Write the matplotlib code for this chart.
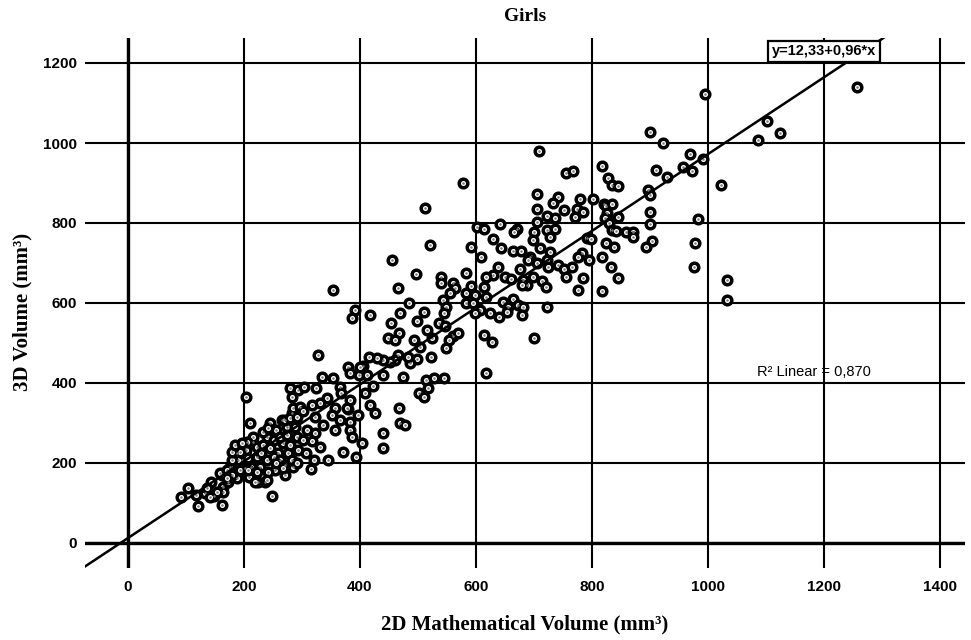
import numpy as np
import matplotlib
matplotlib.use('Agg')
import matplotlib.pyplot as plt

# values (2D volume, 3D volume), mm^3
pts = [
    # lower-left cluster
    (103, 137), (92, 114), (120, 93), (118, 120), (133, 124), (144, 153), (149, 118), (162, 95),
    (164, 141), (162, 170), (176, 191), (173, 153), (188, 224), (188, 162), (203, 366), (210, 301),
    (203, 233), (202, 187), (209, 166), (216, 253), (222, 241), (225, 153), (236, 153), (248, 117),
    (228, 191), (239, 208), (245, 299), (239, 266), (253, 183), (259, 224), (268, 249), (274, 291),
    (282, 324), (279, 387), (294, 383), (282, 366), (288, 291), (291, 266), (294, 233), (285, 191),
    (271, 170), (265, 308), (256, 283), (259, 262),
    (159, 174), (170, 183), (179, 170), (193, 183), (196, 208), (207, 212), (213, 191), (222, 216),
    (230, 224), (233, 245), (245, 237), (251, 258), (251, 216), (262, 208), (271, 195), (276, 224),
    (279, 245), (262, 266), (274, 270), (271, 308), (279, 312), (291, 316), (285, 337), (297, 341),
    (233, 278), (242, 287), (216, 266), (205, 253), (190, 208), (179, 208), (170, 162), (164, 128),
    (153, 128), (141, 116), (136, 137), (219, 153), (207, 183), (222, 178), (242, 178), (239, 158),
    (256, 199), (268, 187), (282, 208), (291, 199), (193, 228), (179, 228), (184, 245), (196, 249),
    # 300-590
    (456, 707), (496, 672), (353, 633), (465, 638), (540, 666), (540, 651), (561, 649), (563, 637),
    (583, 674), (583, 624), (583, 601), (555, 624), (543, 607), (549, 591), (485, 601), (391, 583),
    (386, 562), (418, 570), (469, 574), (510, 578), (498, 555), (454, 551), (468, 526), (448, 513),
    (460, 507), (515, 532), (525, 513), (537, 549), (546, 542), (561, 517), (554, 507), (549, 488),
    (494, 507), (504, 491), (522, 464), (498, 459), (486, 449), (483, 466), (466, 470), (460, 457),
    (452, 453), (439, 457), (429, 462), (416, 464), (406, 443), (399, 420), (412, 420), (423, 393),
    (409, 376), (400, 441), (380, 441), (383, 424), (475, 416), (440, 420), (514, 407), (527, 412),
    (545, 412), (518, 387), (501, 374), (510, 366), (468, 337), (469, 301), (477, 295), (417, 345),
    (426, 324), (397, 320), (380, 334), (382, 303), (383, 283), (386, 266), (403, 251), (440, 274),
    (439, 237), (393, 216), (370, 228), (345, 207), (315, 184), (328, 470), (334, 416), (354, 412),
    (303, 391), (325, 387), (365, 391), (368, 374), (382, 358), (343, 362), (357, 337), (377, 337),
    (331, 349), (317, 345), (302, 329), (322, 316), (351, 320), (366, 308), (337, 295), (308, 283),
    (322, 274), (357, 283), (302, 258), (317, 254), (331, 241), (307, 224), (320, 208),
    (512, 838), (521, 745),
    # 590-800
    (577, 901), (708, 980), (756, 924), (768, 931), (706, 872), (742, 864), (733, 849), (751, 832),
    (779, 861), (774, 836), (785, 828), (771, 816), (706, 834), (722, 817), (736, 812), (705, 803),
    (722, 782), (736, 786), (728, 766), (700, 778), (698, 757), (711, 737), (728, 728), (693, 716),
    (705, 699), (722, 707), (725, 691), (742, 695), (751, 686), (765, 691), (756, 666), (782, 724),
    (776, 716), (791, 762), (785, 662), (776, 632), (671, 786), (665, 778), (641, 797), (601, 791),
    (613, 786), (630, 759), (643, 737), (592, 739), (608, 714), (664, 731), (677, 731), (690, 707),
    (676, 686), (638, 691), (630, 670), (618, 666), (650, 666), (661, 660), (681, 657), (688, 645),
    (679, 645), (699, 664), (713, 656), (721, 639), (545, 574), (569, 524), (592, 643), (613, 641),
    (618, 616), (598, 620), (595, 599), (607, 583), (624, 574), (640, 564), (598, 574), (647, 603),
    (664, 609), (673, 595), (681, 591), (656, 591), (653, 578), (679, 570), (722, 591), (613, 520),
    (628, 503), (700, 512), (618, 424),
    # 800 and up
    (900, 1028), (922, 1001), (969, 972), (992, 959), (957, 941), (972, 931), (1022, 894), (910, 932),
    (930, 914), (817, 943), (828, 912), (834, 895), (844, 893), (897, 883), (900, 870), (802, 859),
    (820, 847), (824, 843), (834, 847), (825, 826), (822, 812), (844, 815), (830, 799), (834, 783),
    (841, 781), (859, 778), (870, 778), (870, 766), (900, 828), (900, 797), (982, 809), (903, 755),
    (893, 741), (799, 759), (824, 751), (838, 741), (795, 707), (818, 714), (832, 691), (845, 662),
    (818, 630), (978, 749), (976, 691), (1032, 658), (1032, 608), (995, 1122), (1257, 1141),
    (1102, 1055), (1124, 1024), (1087, 1007),
]
vol_2d = [p[0] for p in pts]
vol_3d = [p[1] for p in pts]

intercept = 12.33
slope = 0.96
r2 = 0.870

x_ticks = [0, 200, 400, 600, 800, 1000, 1200, 1400]
y_ticks = [0, 200, 400, 600, 800, 1000, 1200]

sans = 'Liberation Sans'
serif = 'Liberation Serif'

fig = plt.figure(figsize=(9.71, 6.40), dpi=100)
ax = fig.add_axes([85 / 971, 72 / 640, 880 / 971, 530 / 640])
ax.set_xlim(-74, 1443)
ax.set_ylim(-62.5, 1262.5)
for s in ax.spines.values():
    s.set_visible(False)

ax.set_xticks(x_ticks)
ax.set_yticks(y_ticks)
ax.grid(True, color='black', lw=1.5, zorder=0)
ax.set_axisbelow(True)
ax.axvline(0, color='black', lw=2.4, zorder=1)
ax.axhline(0, color='black', lw=2.4, zorder=1)

ax.tick_params(axis='both', length=0)
ax.tick_params(axis='x', pad=8.5)
ax.tick_params(axis='y', pad=5.5)
for lab in ax.get_xticklabels() + ax.get_yticklabels():
    lab.set_fontfamily(sans)
    lab.set_fontweight('bold')
    lab.set_fontsize(11)

# points: black ring, white inside, small grey dot in the centre
ax.plot(vol_2d, vol_3d, 'o', ms=6.2, mew=2.5, mec='black', mfc='white', zorder=2)
ax.plot(vol_2d, vol_3d, 'o', ms=1.8, mew=0, mfc='#7a7a7a', zorder=2.1)

xs = np.array(ax.get_xlim())
ax.plot(xs, intercept + slope * xs, color='black', lw=1.8, zorder=3)

ax.text(1200, 1229, 'y=12,33+0,96*x', fontfamily=sans, fontweight='bold', fontsize=10.5,
        ha='center', va='center', zorder=4,
        bbox=dict(boxstyle='square,pad=0.25', fc='white', ec='black', lw=1.6))
ax.text(1183, 428, 'R² Linear = %s' % f'{r2:.3f}'.replace('.', ','), fontfamily=sans,
        fontsize=10.5, ha='center', va='center', zorder=4)

ax.set_title('Girls', fontfamily=serif, fontweight='bold', fontsize=14, pad=12)
ax.set_xlabel('2D Mathematical Volume (mm³)', fontfamily=serif, fontweight='bold', fontsize=15)
ax.set_ylabel('3D Volume (mm³)', fontfamily=serif, fontweight='bold', fontsize=15)
ax.xaxis.set_label_coords(0.5, -0.1075)
ax.xaxis.label.set_verticalalignment('center')
ax.yaxis.set_label_coords(-0.0705, 0.483)
ax.yaxis.label.set_verticalalignment('center')

fig.savefig('out.png', dpi=100)
